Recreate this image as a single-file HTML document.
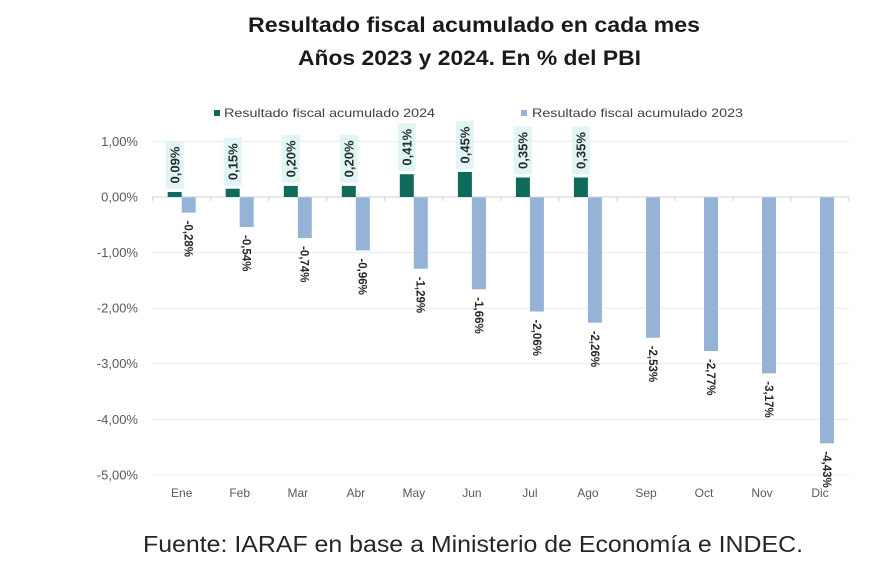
<!DOCTYPE html>
<html><head><meta charset="utf-8"><style>
html,body{margin:0;padding:0;background:#fff;}
svg{display:block;}
</style></head><body>
<svg width="870" height="580" viewBox="0 0 870 580" xmlns="http://www.w3.org/2000/svg" font-family="Liberation Sans, sans-serif">
<rect width="870" height="580" fill="#fff"/>
<!-- Title -->
<text x="248" y="32" font-size="21" font-weight="bold" fill="#1a1a1a" textLength="452" lengthAdjust="spacingAndGlyphs">Resultado fiscal acumulado en cada mes</text>
<text x="298" y="65" font-size="21" font-weight="bold" fill="#1a1a1a" textLength="343" lengthAdjust="spacingAndGlyphs">Años 2023 y 2024. En % del PBI</text>
<!-- Legend -->
<rect x="214" y="110" width="6" height="6" fill="#0e6b5c"/>
<text x="224" y="117" font-size="12" fill="#404040" textLength="211" lengthAdjust="spacingAndGlyphs">Resultado fiscal acumulado 2024</text>
<rect x="521" y="110" width="6" height="6" fill="#95b3d7"/>
<text x="532" y="117" font-size="12" fill="#404040" textLength="211" lengthAdjust="spacingAndGlyphs">Resultado fiscal acumulado 2023</text>
<!-- Gridlines -->
<g stroke="#ececec" stroke-width="1">
<line x1="152" x2="849" y1="141.4" y2="141.4"/>
<line x1="152" x2="849" y1="252.6" y2="252.6"/>
<line x1="152" x2="849" y1="308.2" y2="308.2"/>
<line x1="152" x2="849" y1="363.8" y2="363.8"/>
<line x1="152" x2="849" y1="419.4" y2="419.4"/>
<line x1="152" x2="849" y1="475" y2="475"/>
</g>
<!-- Y labels -->
<g font-size="13" fill="#595959" text-anchor="end">
<text x="138" y="146">1,00%</text>
<text x="138" y="201.5">0,00%</text>
<text x="138" y="257">-1,00%</text>
<text x="138" y="312.5">-2,00%</text>
<text x="138" y="368">-3,00%</text>
<text x="138" y="424">-4,00%</text>
<text x="138" y="479.5">-5,00%</text>
</g>
<!-- Bars 2023 -->
<g fill="#95b3d7">
<rect x="181.7" y="197" width="14" height="15.6"/>
<rect x="239.7" y="197" width="14" height="30.0"/>
<rect x="297.8" y="197" width="14" height="41.1"/>
<rect x="355.8" y="197" width="14" height="53.4"/>
<rect x="413.8" y="197" width="14" height="71.7"/>
<rect x="471.9" y="197" width="14" height="92.3"/>
<rect x="529.9" y="197" width="14" height="114.5"/>
<rect x="587.9" y="197" width="14" height="125.7"/>
<rect x="646.0" y="197" width="14" height="140.7"/>
<rect x="704.0" y="197" width="14" height="154.0"/>
<rect x="762.0" y="197" width="14" height="176.3"/>
<rect x="820.0" y="197" width="14" height="246.3"/>
</g>
<!-- Zero axis & ticks -->
<g stroke="#d0d0d0" stroke-width="1">
<line x1="152" x2="849" y1="197" y2="197"/>
<line x1="152.7" x2="152.7" y1="197" y2="201"/>
<line x1="210.7" x2="210.7" y1="197" y2="201"/>
<line x1="268.7" x2="268.7" y1="197" y2="201"/>
<line x1="326.8" x2="326.8" y1="197" y2="201"/>
<line x1="384.8" x2="384.8" y1="197" y2="201"/>
<line x1="442.8" x2="442.8" y1="197" y2="201"/>
<line x1="500.9" x2="500.9" y1="197" y2="201"/>
<line x1="558.9" x2="558.9" y1="197" y2="201"/>
<line x1="616.9" x2="616.9" y1="197" y2="201"/>
<line x1="675.0" x2="675.0" y1="197" y2="201"/>
<line x1="733.0" x2="733.0" y1="197" y2="201"/>
<line x1="791.0" x2="791.0" y1="197" y2="201"/>
<line x1="849.0" x2="849.0" y1="197" y2="201"/>
</g>
<!-- Bars 2024 -->
<g fill="#0e6b5c">
<rect x="167.7" y="192.0" width="14" height="5.0"/>
<rect x="225.7" y="188.7" width="14" height="8.3"/>
<rect x="283.8" y="185.9" width="14" height="11.1"/>
<rect x="341.8" y="185.9" width="14" height="11.1"/>
<rect x="399.8" y="174.2" width="14" height="22.8"/>
<rect x="457.9" y="172.0" width="14" height="25.0"/>
<rect x="515.9" y="177.5" width="14" height="19.5"/>
<rect x="573.9" y="177.5" width="14" height="19.5"/>
</g>
<!-- 2024 label boxes -->
<g fill="#e3f4f4">
<rect x="165.7" y="141.0" width="18" height="48"/>
<rect x="223.7" y="137.7" width="18" height="48"/>
<rect x="281.8" y="134.9" width="18" height="48"/>
<rect x="339.8" y="134.9" width="18" height="48"/>
<rect x="397.8" y="123.2" width="18" height="48"/>
<rect x="455.9" y="121.0" width="18" height="48"/>
<rect x="513.9" y="126.5" width="18" height="48"/>
<rect x="571.9" y="126.5" width="18" height="48"/>
</g>
<g font-size="13" font-weight="bold" fill="#1f2d2b" text-anchor="middle">
<text transform="translate(174.7,165.0) rotate(-90)" dy="0.36em">0,09%</text>
<text transform="translate(232.7,161.7) rotate(-90)" dy="0.36em">0,15%</text>
<text transform="translate(290.8,158.9) rotate(-90)" dy="0.36em">0,20%</text>
<text transform="translate(348.8,158.9) rotate(-90)" dy="0.36em">0,20%</text>
<text transform="translate(406.8,147.2) rotate(-90)" dy="0.36em">0,41%</text>
<text transform="translate(464.9,145.0) rotate(-90)" dy="0.36em">0,45%</text>
<text transform="translate(522.9,150.5) rotate(-90)" dy="0.36em">0,35%</text>
<text transform="translate(580.9,150.5) rotate(-90)" dy="0.36em">0,35%</text>
</g>
<!-- 2023 labels -->
<g font-size="11.5" font-weight="bold" fill="#262626">
<text transform="translate(188.7,220.6) rotate(90)" dy="0.36em">-0,28%</text>
<text transform="translate(246.7,235.0) rotate(90)" dy="0.36em">-0,54%</text>
<text transform="translate(304.8,246.1) rotate(90)" dy="0.36em">-0,74%</text>
<text transform="translate(362.8,258.4) rotate(90)" dy="0.36em">-0,96%</text>
<text transform="translate(420.8,276.7) rotate(90)" dy="0.36em">-1,29%</text>
<text transform="translate(478.9,297.3) rotate(90)" dy="0.36em">-1,66%</text>
<text transform="translate(536.9,319.5) rotate(90)" dy="0.36em">-2,06%</text>
<text transform="translate(594.9,330.7) rotate(90)" dy="0.36em">-2,26%</text>
<text transform="translate(653.0,345.7) rotate(90)" dy="0.36em">-2,53%</text>
<text transform="translate(711.0,359.0) rotate(90)" dy="0.36em">-2,77%</text>
<text transform="translate(769.0,381.3) rotate(90)" dy="0.36em">-3,17%</text>
<text transform="translate(827.0,451.3) rotate(90)" dy="0.36em">-4,43%</text>
</g>
<!-- X labels -->
<g font-size="12" fill="#595959" text-anchor="middle">
<text x="181.7" y="497">Ene</text>
<text x="239.7" y="497">Feb</text>
<text x="297.8" y="497">Mar</text>
<text x="355.8" y="497">Abr</text>
<text x="413.8" y="497">May</text>
<text x="471.9" y="497">Jun</text>
<text x="529.9" y="497">Jul</text>
<text x="587.9" y="497">Ago</text>
<text x="646.0" y="497">Sep</text>
<text x="704.0" y="497">Oct</text>
<text x="762.0" y="497">Nov</text>
<text x="820.0" y="497">Dic</text>
</g>
<!-- Footer -->
<text x="143" y="552" font-size="23" fill="#262626" textLength="660" lengthAdjust="spacingAndGlyphs">Fuente: IARAF en base a Ministerio de Economía e INDEC.</text>
</svg>
</body></html>
